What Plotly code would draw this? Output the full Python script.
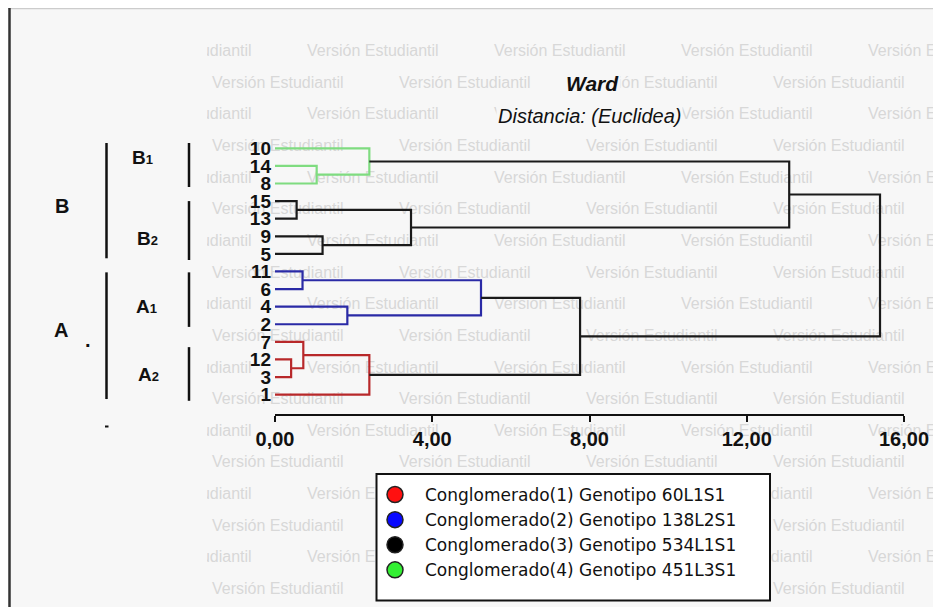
import plotly.graph_objects as go

# page is offset by the default 8px body margin; figure fills the rest of the 941x607 window
OX, OY = 8, 8
W, H = 941 - OX, 607 - OY

# ---------------- data ----------------
leaf_labels = ["10", "14", "8", "15", "13", "9", "5", "11", "6", "4", "2", "7", "12", "3", "1"]

merge_names = ["m1", "B1", "m2", "m3", "B2", "B", "m4", "m5", "A1", "m6", "m7", "A2", "A", "root"]
merge_left = ["14", "10", "15", "9", "m2", "B1", "11", "4", "m4", "12", "7", "m7", "A1", "B"]
merge_right = ["8", "m1", "13", "5", "m3", "B2", "6", "2", "m5", "3", "m6", "1", "A2", "A"]
merge_heights = [1.06, 2.40, 0.55, 1.21, 3.46, 13.08, 0.70, 1.84, 5.24, 0.41, 0.72, 2.40, 7.76, 15.39]
merge_group = ["g", "g", "k", "k", "k", "k", "b", "b", "b", "r", "r", "r", "k", "k"]

group_line_colors = {"r": "#b8282a", "b": "#2a2aa6", "k": "#1a1a1a", "g": "#7fdc80"}

legend_names = [
    "Conglomerado(1) Genotipo 60L1S1",
    "Conglomerado(2) Genotipo 138L2S1",
    "Conglomerado(3) Genotipo 534L1S1",
    "Conglomerado(4) Genotipo 451L3S1",
]
legend_colors = ["#ff1010", "#0808ff", "#000000", "#33f033"]

x_tick_vals = [0, 4, 8, 12, 16]
x_tick_text = ["0,00", "4,00", "8,00", "12,00", "16,00"]

title_main = "Ward"
title_sub = "Distancia: (Euclidea)"
watermark = "Versión Estudiantil"


# ---------------- helpers (window pixel -> paper fraction) ----------------
def px(x):
    return (x - OX) / W


def py(y):
    return 1 - (y - OY) / H


pos_y = {lab: i for i, lab in enumerate(leaf_labels)}
pos_h = {lab: 0.0 for lab in leaf_labels}

fig = go.Figure()

# watermark (background layer, pixel-based hidden axes x/y)
wm_x, wm_y, wm_t = [], [], []
for r in range(18):
    yy = 52 + 31.65 * r
    start = 120 if r % 2 == 0 else 212
    for k in range(-1, 5):
        xx = start + 187 * k
        if xx + 160 < 207 or xx > 941:
            continue
        wm_x.append(xx)
        wm_y.append(yy)
        wm_t.append(watermark)
fig.add_trace(go.Scatter(
    x=wm_x, y=wm_y, text=wm_t, mode="text", textposition="middle right",
    textfont=dict(family="Liberation Sans, Arial", size=16, color="#d8d8d8"),
    cliponaxis=True, hoverinfo="skip", showlegend=False, xaxis="x", yaxis="y"))

# dendrogram links
for name, a, b, h, g in zip(merge_names, merge_left, merge_right, merge_heights, merge_group):
    ya, yb = pos_y[a], pos_y[b]
    ha, hb = pos_h[a], pos_h[b]
    fig.add_trace(go.Scatter(
        x=[ha, h, h, hb], y=[ya, ya, yb, yb], mode="lines",
        line=dict(color=group_line_colors[g], width=2.2),
        hoverinfo="skip", showlegend=False, xaxis="x2", yaxis="y2"))
    pos_y[name] = (ya + yb) / 2
    pos_h[name] = h

# legend entries
for nm, c in zip(legend_names, legend_colors):
    fig.add_trace(go.Scatter(
        x=[None], y=[None], mode="markers", name=nm,
        marker=dict(symbol="circle", size=16, color=c, line=dict(color="#222222", width=1.5)),
        xaxis="x2", yaxis="y2"))

tick_font = dict(family="Liberation Sans, Arial", size=20, color="#111111", weight="bold")
leaf_font = dict(family="Liberation Sans, Arial", size=19, color="#111111", weight="bold")

fig.update_layout(
    width=W, height=H, autosize=False,
    margin=dict(l=0, r=0, t=0, b=0, pad=0, autoexpand=False),
    paper_bgcolor="#f7f7f7", plot_bgcolor="rgba(0,0,0,0)",
    xaxis=dict(domain=[px(207), 1], range=[207, 941], visible=False, fixedrange=True, automargin=False),
    yaxis=dict(domain=[0, py(30)], range=[607, 30], visible=False, fixedrange=True, automargin=False),
    xaxis2=dict(domain=[px(275), px(904)], range=[0, 16], anchor="y2", automargin=False,
                tickvals=x_tick_vals, ticktext=x_tick_text,
                ticks="outside", ticklen=6, tickwidth=2, tickcolor="#111111",
                showline=True, linecolor="#111111", linewidth=2,
                showgrid=False, zeroline=False, tickfont=tick_font),
    yaxis2=dict(domain=[py(414), py(130)], range=[15.1, -1.04], anchor="x2", automargin=False,
                tickvals=list(range(len(leaf_labels))), ticktext=leaf_labels,
                ticks="", showline=False, showgrid=False, zeroline=False,
                tickfont=leaf_font, ticklabelstandoff=3),
    showlegend=True,
    legend=dict(x=px(365), y=py(477), xanchor="left", yanchor="top",
                bgcolor="rgba(0,0,0,0)", borderwidth=0, itemwidth=50,
                font=dict(family="DejaVu Sans", size=17, color="#111111")),
)

shapes = []
# frame
shapes.append(dict(type="line", xref="paper", yref="paper", x0=0, x1=1, y0=py(8.5), y1=py(8.5),
                   line=dict(color="#cccccc", width=1.5)))
shapes.append(dict(type="line", xref="paper", yref="paper", x0=px(9.5), x1=px(9.5), y0=0, y1=1,
                   line=dict(color="#333333", width=2.5)))
# legend box
shapes.append(dict(type="rect", xref="paper", yref="paper", x0=px(376.5), x1=px(770), y0=py(600.5), y1=py(474),
                   fillcolor="white", line=dict(color="#111111", width=2), layer="above"))
# group brackets (leaf index ranges)
big_bars = [(-0.3, 6.25), (7.05, 14.25)]
small_bars = [(-0.3, 2.2), (3.0, 6.35), (7.05, 10.15), (11.3, 14.35)]
for y0, y1 in big_bars:
    shapes.append(dict(type="line", xref="paper", yref="y2", x0=px(106.5), x1=px(106.5), y0=y0, y1=y1,
                       line=dict(color="#111111", width=2.5)))
for y0, y1 in small_bars:
    shapes.append(dict(type="line", xref="paper", yref="y2", x0=px(189), x1=px(189), y0=y0, y1=y1,
                       line=dict(color="#111111", width=2.5)))
shapes.append(dict(type="line", xref="paper", yref="paper", x0=px(105), x1=px(108.5), y0=py(426.5), y1=py(426.5),
                   line=dict(color="#111111", width=2)))
fig.update_layout(shapes=shapes)

ann = []
lbl = dict(family="Liberation Sans, Arial", size=20, color="#111111", weight="bold")
sub_lbl = dict(family="Liberation Sans, Arial", size=19, color="#111111", weight="bold")


def add_text(x, y, text, font, bg=None):
    d = dict(x=px(x), y=py(y), xref="paper", yref="paper", text=text, showarrow=False,
             font=font, xanchor="center", yanchor="middle")
    if bg:
        d["bgcolor"] = bg
    ann.append(d)


add_text(62, 206, "B", lbl)
add_text(61, 330, "A", lbl)
add_text(88, 345, "·", lbl)
add_text(142, 157, "B<span style='font-size:13px'>1</span>", sub_lbl)
add_text(147, 238, "B<span style='font-size:13px'>2</span>", sub_lbl)
add_text(146, 306, "A<span style='font-size:13px'>1</span>", sub_lbl)
add_text(148, 374, "A<span style='font-size:13px'>2</span>", sub_lbl)
add_text(592, 84, "<b><i>" + title_main + "</i></b>",
         dict(family="Liberation Sans, Arial", size=21, color="#111111"), bg="#f7f7f7")
add_text(589, 116, "<i>" + title_sub + "</i>",
         dict(family="Liberation Sans, Arial", size=20, color="#111111"), bg="#f7f7f7")
fig.update_layout(annotations=ann)

fig.write_html("out.html")
